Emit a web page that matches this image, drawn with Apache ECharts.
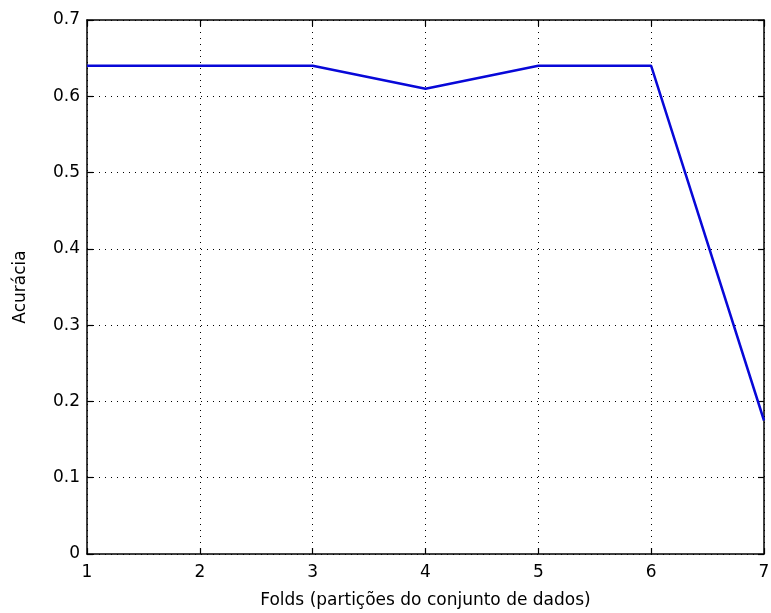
<!DOCTYPE html>
<html><head><meta charset="utf-8">
<script src="https://cdn.jsdelivr.net/npm/echarts@6/dist/echarts.min.js"></script>
<style>html,body{margin:0;padding:0;background:#fff}#c{width:771px;height:613px}</style>
</head><body><div id="c"></div>
<script>
const folds = [1, 2, 3, 4, 5, 6, 7];
const accuracy = [0.64, 0.64, 0.64, 0.61, 0.64, 0.64, 0.175];
const xLabel = 'Folds (partições do conjunto de dados)';
const yLabel = 'Acurácia';

const chart = echarts.init(document.getElementById('c'), null, {renderer: 'canvas'});
const font = 'DejaVu Sans, Liberation Sans, sans-serif';
const lineC = '#000';
const common = {
  axisLine: {show: true, onZero: false, lineStyle: {color: lineC, width: 1.5}},
  axisTick: {show: true, inside: true, length: 6, lineStyle: {color: lineC, width: 1.2}},
};
chart.setOption({
  animation: false,
  grid: {left: 87, right: 7, top: 20, bottom: 59, containLabel: false, outerBoundsMode: 'none'},
  xAxis: [{
    type: 'value', min: 1, max: 7, interval: 1, position: 'bottom',
    name: xLabel, nameLocation: 'middle', nameGap: 38,
    nameTextStyle: {fontFamily: font, fontSize: 17, color: '#000'},
    ...common,
    axisLabel: {fontFamily: font, fontSize: 17, color: '#000', margin: 10},
    splitLine: {show: true, lineStyle: {color: '#000', type: [1, 5], width: 1}}
  }, {
    type: 'value', min: 1, max: 7, interval: 1, position: 'top',
    ...common, axisLabel: {show: false}, splitLine: {show: false}
  }],
  yAxis: [{
    type: 'value', min: 0, max: 0.7, interval: 0.1, position: 'left',
    name: yLabel, nameLocation: 'middle', nameGap: 58,
    nameTextStyle: {fontFamily: font, fontSize: 17, color: '#000'},
    ...common,
    axisLabel: {fontFamily: font, fontSize: 17, color: '#000', margin: 7,
      formatter: v => String(Math.round(v * 10) / 10)},
    splitLine: {show: true, lineStyle: {color: '#000', type: [1, 5], width: 1}}
  }, {
    type: 'value', min: 0, max: 0.7, interval: 0.1, position: 'right',
    ...common, axisLabel: {show: false}, splitLine: {show: false}
  }],
  series: [{
    type: 'line', xAxisIndex: 0, yAxisIndex: 0,
    data: folds.map((f, i) => [f, accuracy[i]]),
    showSymbol: false, symbol: 'none',
    lineStyle: {color: '#0808d8', width: 2.5}
  }]
});
</script></body></html>
